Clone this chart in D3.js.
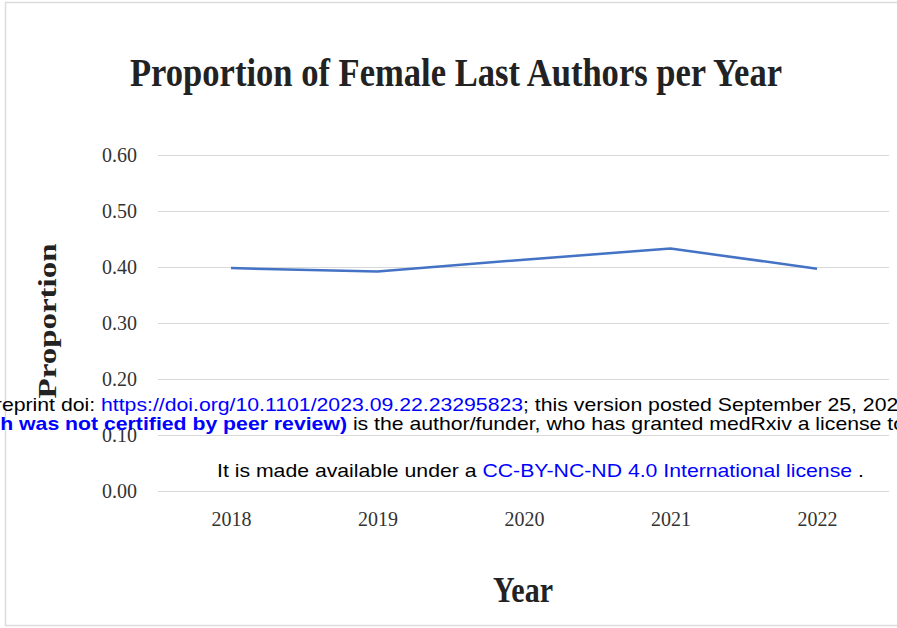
<!DOCTYPE html>
<html>
<head>
<meta charset="utf-8">
<script src="https://cdn.jsdelivr.net/npm/d3@7"></script>
<style>
  html, body { margin: 0; padding: 0; background: #fff; }
  svg { display: block; }
  .tick text { font-family: "Liberation Serif", "Times New Roman", serif; fill: #333; }
</style>
</head>
<body>
<div id="chart"></div>
<script>
// data
const years = ["2018", "2019", "2020", "2021", "2022"];
const proportion = [0.398, 0.392, 0.413, 0.433, 0.397];
const yTicks = [0, 0.1, 0.2, 0.3, 0.4, 0.5, 0.6];

const W = 897, H = 628;
const m = { top: 155, right: 8, bottom: 137, left: 158 };
const innerW = W - m.left - m.right;
const innerH = H - m.top - m.bottom;

const svg = d3.select("#chart").append("svg")
  .attr("width", W).attr("height", H);

// frame
svg.append("rect")
  .attr("x", 5.5).attr("y", 2.5)
  .attr("width", W + 10).attr("height", 623)
  .attr("fill", "#fff").attr("stroke", "#dcdcdc").attr("stroke-width", 1.5);

const g = svg.append("g").attr("transform", `translate(${m.left},${m.top})`);

const x = d3.scalePoint().domain(years).range([73, 659]);
const y = d3.scaleLinear().domain([0, 0.6]).range([innerH, 0]);

// y axis + gridlines
const ya = g.append("g")
  .call(d3.axisLeft(y).tickValues(yTicks).tickFormat(d3.format(".2f")).tickSize(-innerW).tickPadding(21));
ya.select(".domain").remove();
ya.selectAll(".tick line").attr("stroke", "#d9d9d9").attr("stroke-width", 1.2);
ya.selectAll(".tick text").attr("font-size", 20).attr("dy", "0.32em");

// x axis
const xa = g.append("g")
  .attr("transform", `translate(0,${innerH})`)
  .call(d3.axisBottom(x).tickSize(0).tickPadding(21));
xa.select(".domain").remove();
xa.selectAll(".tick text").attr("font-size", 20);

// line
g.append("path")
  .datum(proportion)
  .attr("fill", "none")
  .attr("stroke", "#4472c4")
  .attr("stroke-width", 2.5)
  .attr("stroke-linejoin", "round")
  .attr("d", d3.line().x((d, i) => x(years[i])).y(d => y(d)));

// stretched serif text helper
function sText(txt, cx, by, size, len, sy) {
  const t = svg.append("g")
    .attr("transform", `translate(${cx},${by}) scale(1,${sy})`)
    .append("text")
    .attr("text-anchor", "middle")
    .attr("font-family", '"Liberation Serif", "Times New Roman", serif')
    .attr("font-weight", "bold")
    .attr("font-size", size)
    .attr("fill", "#222")
    .text(txt);
  if (len) t.attr("textLength", len).attr("lengthAdjust", "spacingAndGlyphs");
  return t;
}

sText("Proportion of Female Last Authors per Year", 456, 86, 30, 652, 1.3);
sText("Year", 523, 602, 28, 60, 1.3);
svg.append("g").attr("transform", "translate(56,321) rotate(-90)")
  .append("text")
  .attr("text-anchor", "middle")
  .attr("font-family", '"Liberation Serif", "Times New Roman", serif')
  .attr("font-weight", "bold").attr("font-size", 25).attr("fill", "#222")
  .attr("textLength", 155).attr("lengthAdjust", "spacingAndGlyphs")
  .text("Proportion");

// medRxiv overlay (wide glyphs: stretched horizontally)
const sx = 1.18;
const wm = svg.append("g")
  .attr("transform", `scale(${sx},1)`)
  .attr("font-family", '"Liberation Sans", Arial, sans-serif')
  .attr("font-size", 18);

function wmLine(parts, yBase, anchorIdx, anchorX) {
  const t = wm.append("text").attr("y", yBase).attr("x", 0);
  const spans = parts.map(p => t.append("tspan")
    .attr("fill", p.c || "#000")
    .attr("font-weight", p.b ? "bold" : null)
    .text(p.t));
  let off = 0;
  for (let i = 0; i < anchorIdx; i++) off += spans[i].node().getComputedTextLength();
  t.attr("x", anchorX / sx - off);
}

wmLine([
  { t: "medRxiv preprint doi: " },
  { t: "https://doi.org/10.1101/2023.09.22.23295823", c: "#0000ff" },
  { t: "; this version posted September 25, 2023. The copyright holder for this preprint" }
], 411, 1, 101);

wmLine([
  { t: "(which was not certified by peer review)", c: "#0000ff", b: true },
  { t: " is the author/funder, who has granted medRxiv a license to display the preprint in perpetuity." }
], 430, 1, 347);

wmLine([
  { t: "It is made available under a " },
  { t: "CC-BY-NC-ND 4.0 International license", c: "#0000ff" },
  { t: " ." }
], 477, 0, 217);
</script>
</body>
</html>
